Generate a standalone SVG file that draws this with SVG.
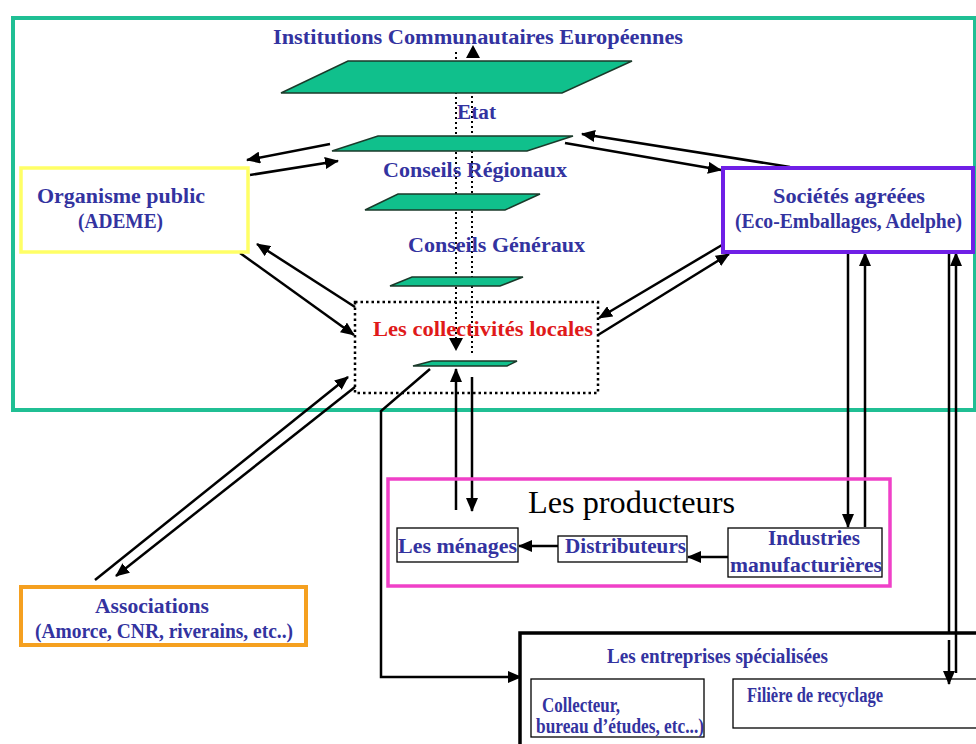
<svg xmlns="http://www.w3.org/2000/svg" width="976" height="744" viewBox="0 0 976 744">
<defs>
<marker id="ah" markerUnits="userSpaceOnUse" markerWidth="14" markerHeight="12" refX="13" refY="6" orient="auto">
<path d="M0,0 L14,6 L0,12 z" fill="#000"/>
</marker>
<style>
text{font-family:'Liberation Serif','Times New Roman',serif}
.lbl{font-weight:bold;font-size:20px;fill:#3333a0}
.red{fill:#e01a1a}
.big{font-size:31px;fill:#000}
.arr{stroke:#000;stroke-width:2.5;fill:none;marker-end:url(#ah)}
.dot{stroke:#000;stroke-width:2;stroke-dasharray:2,3;fill:none}
.para{fill:#10c08c;stroke:#1a3a2a;stroke-width:1.5}
.box{fill:#fff}
</style>
</defs>
<rect width="976" height="744" fill="#fff"/>

<g id="zone">
<rect x="13" y="18" width="962" height="392" fill="none" stroke="#20bf94" stroke-width="4"/>
</g>

<g id="connectors">
<line class="dot" x1="456" y1="52" x2="456" y2="338"/>
<path d="M449,338 L463,338 L456,351 z" fill="#000"/>
<line class="dot" x1="472" y1="353" x2="472" y2="58"/>
<path d="M466,58 L480,58 L473,45 z" fill="#000"/>
<line class="arr" x1="330" y1="144" x2="247" y2="160"/>
<line class="arr" x1="250" y1="175" x2="338" y2="161"/>
<line class="arr" x1="790" y1="167" x2="582" y2="134"/>
<line class="arr" x1="565" y1="143" x2="721" y2="170"/>
<line class="arr" x1="240" y1="253" x2="354" y2="335"/>
<line class="arr" x1="355" y1="307" x2="257" y2="244"/>
<line class="arr" x1="722" y1="245" x2="599" y2="318"/>
<line class="arr" x1="598" y1="335" x2="729" y2="254"/>
<line class="arr" x1="95" y1="580" x2="348" y2="377"/>
<line class="arr" x1="355" y1="387" x2="116" y2="576"/>
<line class="arr" x1="456" y1="510" x2="456" y2="369"/>
<line class="arr" x1="472" y1="377" x2="472" y2="511"/>
<line class="arr" x1="848" y1="252" x2="848" y2="527"/>
<line class="arr" x1="865" y1="527" x2="865" y2="253"/>
<line class="arr" x1="949" y1="252" x2="949" y2="684"/>
<line class="arr" x1="956" y1="673" x2="956" y2="253"/>
<line class="arr" x1="558" y1="546" x2="519" y2="546"/>
<line class="arr" x1="728" y1="557" x2="688" y2="557"/>
<path class="arr" d="M430,369 L381,411 L381,677 L521,677"/>
</g>

<g id="europe">
<polygon class="para" points="348,61 632,61 562,93 281,93"/>
<text class="lbl" x="273" y="44" textLength="410" lengthAdjust="spacingAndGlyphs">Institutions Communautaires Européennes</text>
</g>
<g id="etat">
<polygon class="para" points="378,136 573,136 527,151 332,151"/>
<text class="lbl" x="457" y="119" textLength="39" lengthAdjust="spacingAndGlyphs">Etat</text>
</g>
<g id="regions">
<polygon class="para" points="398,194 540,194 505,210 365,210"/>
<text class="lbl" x="383" y="177" textLength="184" lengthAdjust="spacingAndGlyphs">Conseils Régionaux</text>
</g>
<g id="generaux">
<polygon class="para" points="412,277 523,277 500,286 390,286"/>
<text class="lbl" x="408" y="252" textLength="177" lengthAdjust="spacingAndGlyphs">Conseils Généraux</text>
</g>
<g id="collectivites">
<rect x="355" y="302" width="243" height="91" fill="none" stroke="#000" stroke-width="2.5" stroke-dasharray="2.5,3"/>
<polygon class="para" points="432,361 517,361 507,366 413,366"/>
<text class="lbl red" x="373" y="336" textLength="220" lengthAdjust="spacingAndGlyphs">Les collectivités locales</text>
</g>

<g id="ademe">
<rect x="21" y="168" width="227" height="84" fill="none" stroke="#ffff66" stroke-width="3.5"/>
<text class="lbl" x="37" y="203" textLength="168" lengthAdjust="spacingAndGlyphs">Organisme public</text>
<text class="lbl" x="78" y="228" textLength="85" lengthAdjust="spacingAndGlyphs">(ADEME)</text>
</g>

<g id="societes">
<rect x="723" y="168" width="250" height="84" class="box" stroke="#6f1fe6" stroke-width="4"/>
<text class="lbl" x="773" y="203" textLength="152" lengthAdjust="spacingAndGlyphs">Sociétés agréées</text>
<text class="lbl" x="735" y="228" textLength="227" lengthAdjust="spacingAndGlyphs">(Eco-Emballages, Adelphe)</text>
</g>

<g id="producteurs">
<rect x="388" y="479" width="502" height="107" fill="none" stroke="#f040c8" stroke-width="3.5"/>
<text class="big" x="528" y="513" textLength="207" lengthAdjust="spacingAndGlyphs">Les producteurs</text>
</g>
<g id="menages">
<rect x="397" y="528" width="121" height="34" class="box" stroke="#000" stroke-width="1.3"/>
<text class="lbl" x="398" y="553" textLength="119" lengthAdjust="spacingAndGlyphs">Les ménages</text>
</g>
<g id="distributeurs">
<rect x="558" y="536" width="129" height="26" class="box" stroke="#000" stroke-width="1.3"/>
<text class="lbl" x="565" y="553" textLength="121" lengthAdjust="spacingAndGlyphs">Distributeurs</text>
</g>
<g id="industries">
<rect x="728" y="528" width="154" height="49" class="box" stroke="#000" stroke-width="1.3"/>
<text class="lbl" x="768" y="545" textLength="92" lengthAdjust="spacingAndGlyphs">Industries</text>
<text class="lbl" x="730" y="572" textLength="152" lengthAdjust="spacingAndGlyphs">manufacturières</text>
</g>

<g id="associations">
<rect x="21" y="587" width="285" height="58" class="box" stroke="#f5a020" stroke-width="4"/>
<text class="lbl" x="95" y="613" textLength="114" lengthAdjust="spacingAndGlyphs">Associations</text>
<text class="lbl" x="35" y="638" textLength="258" lengthAdjust="spacingAndGlyphs">(Amorce, CNR, riverains, etc..)</text>
</g>

<g id="entreprises">
<rect x="520" y="633" width="470" height="130" class="box" stroke="#000" stroke-width="3.5"/>
<text class="lbl" x="607" y="663" textLength="221" lengthAdjust="spacingAndGlyphs">Les entreprises spécialisées</text>
</g>
<g id="collecteur">
<rect x="531" y="679" width="173" height="58" class="box" stroke="#000" stroke-width="1.3"/>
<text class="lbl" x="542" y="712" textLength="78" lengthAdjust="spacingAndGlyphs">Collecteur,</text>
<text class="lbl" x="536" y="733" textLength="168" lengthAdjust="spacingAndGlyphs">bureau d’études, etc...)</text>
</g>
<g id="filiere">
<rect x="733" y="679" width="260" height="49" class="box" stroke="#000" stroke-width="1.3"/>
<text class="lbl" x="747" y="702" textLength="136" lengthAdjust="spacingAndGlyphs">Filière de recyclage</text>
</g>

<g id="overlays">
<line class="arr" x1="949" y1="640" x2="949" y2="684"/>
<line x1="956" y1="634" x2="956" y2="673" stroke="#000" stroke-width="2.5"/>
</g>
</svg>
